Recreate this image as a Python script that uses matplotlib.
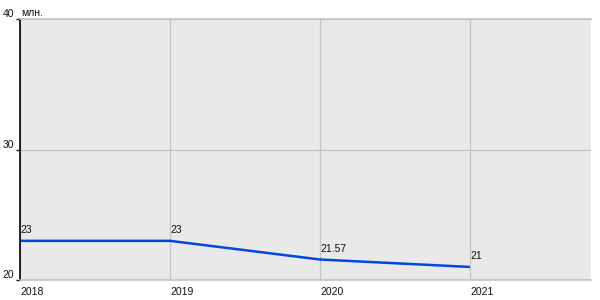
import matplotlib
matplotlib.use('Agg')
import matplotlib.pyplot as plt

years = [2018, 2019, 2020, 2021]
values = [23, 23, 21.57, 21]
value_labels = ['23', '23', '21.57', '21']
y_ticks = [20, 30, 40]

plt.rcParams['font.family'] = ['Liberation Sans', 'DejaVu Sans']

fig = plt.figure(figsize=(6, 3), dpi=100)
ax = fig.add_axes([20 / 600, 20 / 300, 571 / 600, 261 / 300])
ax.set_facecolor('#e9e9e9')

ax.plot(years, values, color='#0047e0', linewidth=1.8, solid_capstyle='butt')
for x, y, s in zip(years, values, value_labels):
    ax.annotate(s, (x, y), xytext=(0, 4), textcoords='offset points',
                ha='left', va='bottom', fontsize=7.5, color='#111111')

ax.set_xlim(2018, 2018 + 571 / 150)
ax.set_ylim(20, 40)
ax.set_xticks(years)
ax.set_xticklabels([str(y) for y in years], ha='left')
ax.set_yticks(y_ticks)
ax.grid(True, color='#c4c4c4', linewidth=0.9)
ax.set_axisbelow(True)

ax.tick_params(axis='x', length=0, pad=5, labelsize=7.5, colors='#111111')
ax.tick_params(axis='y', length=3, width=1, pad=1, labelsize=7.5, colors='#111111')
for lbl in ax.get_yticklabels():
    lbl.set_verticalalignment('bottom')

for side in ['top', 'bottom']:
    ax.spines[side].set_color('#c4c4c4')
    ax.spines[side].set_linewidth(1.2)
ax.spines['right'].set_visible(False)
ax.spines['left'].set_color('black')
ax.spines['left'].set_linewidth(1.2)

fig.text(21 / 600, 1 - 8 / 300, 'млн.', fontsize=7.5, ha='left', va='top', color='#111111')

fig.savefig('out.png', dpi=100)
